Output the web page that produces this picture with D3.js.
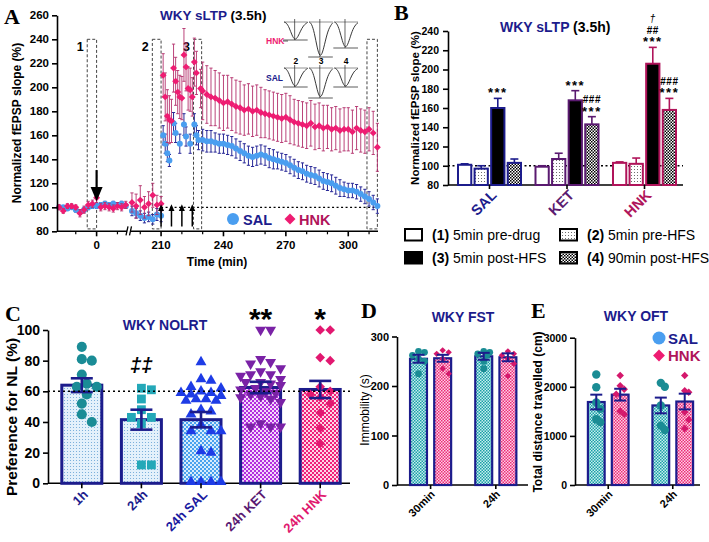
<!DOCTYPE html>
<html><head><meta charset="utf-8">
<script src="https://cdn.jsdelivr.net/npm/d3@7/dist/d3.min.js"></script>
<style>html,body{margin:0;padding:0;background:#fff;}svg{display:block;}</style>
</head><body>
<svg id="chart" width="709" height="542" xmlns="http://www.w3.org/2000/svg"></svg>
<script>
// ================= DATA =================
// Panel A : time course (minutes) of normalized fEPSP slope (%)
const seg1Times = [-18,-16,-14,-12,-10,-8,-6,-4,-2,0,2,4,6,8,10,12,14];
const salSeg1    = [100,100,99,100,98,96,98,100,101,101,102,103,102,103,102,103,101];
const salSeg1Err = [1,1,1,1,2,2,2,2,2,2,2,2,2,2,2,2,2];
const hnkSeg1    = [100,97,101,101,100,95,98,102,103,108,100,101,100,99,101,100,102];
const hnkSeg1Err = [2,2,2,2,2,3,3,3,3,4,3,3,3,3,3,3,3];

const seg2Times = [196,198,200,202,204,206,208,210];
const salSeg2    = [97,95,93,91,92,90,94,93];
const salSeg2Err = [4,4,4,4,4,4,5,5];
const hnkSeg2    = [104,101,106,100,103,110,102,103];
const hnkSeg2Err = [8,10,12,9,10,10,8,6];

const salHfsTimes = [211,212,213,214,216,217,219,221,222,224,226,227,228];
const salHfs      = [160,153,145,139,170,162,153,169,159,153,169,160,156];
const salHfsErr   = [8,8,7,5,9,8,8,9,8,8,9,8,8];
const hnkHfsTimes = [211,212,213,214,215,216,217,218,219,220,221,222,223,224,225,226,227,229];
const hnkHfs      = [210,192,176,173,172,216,205,196,192,191,227,217,199,198,192,221,212,199];
const hnkHfsErr   = [18,20,22,20,18,20,20,18,18,18,22,20,18,18,16,20,18,16];

const postTimes = [230,232,234,236,238,240,242,244,246,248,250,252,254,256,258,260,262,264,266,268,270,272,274,276,278,280,282,284,286,288,290,292,294,296,298,300,302,304,306,308,310,312,314];
const salPost    = [156,155,155,154,153,153,152,151,149,147,145,143,142,143,144,143,141,140,139,138,137,135,133,131,130,128,127,126,124,122,121,120,118,116,115,114,114,113,111,109,107,104,101];
const salPostErr = [9,9,9,8,8,8,8,8,8,8,8,8,8,8,8,8,8,8,7,7,7,7,7,7,7,7,7,7,7,7,7,7,7,7,6,6,6,6,6,6,6,6,6];
const hnkPost    = [197,194,192,191,189,187,188,186,184,183,181,182,180,181,179,178,177,176,175,174,175,173,171,170,169,168,170,167,168,166,167,165,166,164,165,165,163,166,164,163,165,162,150];
const hnkPostErr = [24,24,24,23,23,23,22,22,22,22,21,21,21,21,21,20,20,20,20,20,20,20,19,19,19,19,19,19,19,19,18,18,18,18,18,18,18,18,18,18,18,18,20];

const aYTicks = [80,100,120,140,160,180,200,220,240,260];
const aXTicks1 = [0];
const aXMinor1 = [-10,10];
const aXTicks2 = [210,240,270,300];
const aXMinor2 = [200,220,230,250,260,280,290,310];
const hfsTimes = [210,215,220,225];
const windows = [{lab:"1",t0:-4.5,t1:0,seg:1},{lab:"2",t0:205.8,t1:210,seg:2},{lab:"3",t0:225.6,t1:229.5,seg:2},{lab:"",t0:309,t1:314,seg:2}];
// inset trace amplitudes (arbitrary units)
const insetLabels = ["2","3","4"];
const hnkTraceAmp = [0.9,1.75,1.3];
const salTraceAmp = [0.95,1.5,0.95];
const traceShape = [[0,0],[0.1,0.04],[0.22,0.3],[0.34,0.75],[0.45,1],[0.56,0.9],[0.68,0.55],[0.82,0.18],[1,0.02]];

// Panel B
const bGroups = ["SAL","KET","HNK"];
const bPhases = ["1","2","3","4"];
const bMeans = {SAL:[101,97,160,103], KET:[99,107,168,143], HNK:[103,102,206,158]};
const bErrs  = {SAL:[1,3,10,4], KET:[1,6,10,8], HNK:[1,6,17,12]};
const bYTicks = [80,100,120,140,160,180,200,220,240];
const bAnnots = [
  {g:"SAL",p:"3",lines:["***"]},
  {g:"KET",p:"3",lines:["***"]},
  {g:"KET",p:"4",lines:["###","***"]},
  {g:"HNK",p:"3",lines:["\u2020","##","***"]},
  {g:"HNK",p:"4",lines:["###","***"]}
];
const bLegend = [{p:"1",n:"(1)",t:" 5min pre-drug"},{p:"2",n:"(2)",t:" 5min pre-HFS"},{p:"3",n:"(3)",t:" 5min post-HFS"},{p:"4",n:"(4)",t:" 90min post-HFS"}];

// Panel C
const cCats = ["1h","24h","24h SAL","24h KET","24h HNK"];
const cMeans = [64,41.5,41.5,62.5,61.2];
const cErrs  = [4.5,6.5,5,3.7,5.6];
const cPts = [
  [89,80,81,71,63,65,58,63,52,45,40],
  [62,61,55,48,43,43,39,12,12],
  [79,68,67,63,62,59,59,58,55,55,54,54,48,47,38,34,34,34,21,20,1,1,1,1,60,57,45],
  [100,100,81,79,78,75,73,71,71,70,68,66,66,65,64,62,61,60,59,58,57,56,55,53,39,37,37,37],
  [100,100,82,80,63,60,58,56,52,46,36,26]
];
const cYTicks = [0,20,40,60,80,100];
const cAnnots = ["","\u2021\u2021","","**","*"];

// Panel D (FST)
const dGroups = ["30min","24h"];
const dMeans = {SAL:[255,260], HNK:[256,258]};
const dErrs  = {SAL:[8,7], HNK:[7,8]};
const dPts = {SAL:[[270,268,262,255,250,225],[270,268,265,262,250,235]],
              HNK:[[272,268,265,255,235,225],[270,265,262,255,245,220]]};
const dYTicks = [0,100,200,300];

// Panel E (OFT)
const eMeans = {SAL:[1690,1620], HNK:[1840,1700]};
const eErrs  = {SAL:[150,160], HNK:[120,160]};
const ePts = {SAL:[[2250,1990,1680,1550,1340,1280],[2080,2000,1620,1210,1120]],
              HNK:[[2230,2020,1950,1850,1500,1440],[2230,1920,1890,1480,1330,1150]]};
const eYTicks = [0,1000,2000,3000];

// ================= STYLE =================
const SANS = '"Liberation Sans", Arial, Helvetica, sans-serif';
const SERIF = '"Liberation Serif", "Times New Roman", serif';
const NAVY = "#1c1c8c";
const PURPLE = "#5a1a70";
const CRIMSON = "#b0145a";
const PINK = "#ee1c72";
const LBLUE = "#4a9ef0";

const svg = d3.select("#chart");
svg.append("rect").attr("width",709).attr("height",542).attr("fill","#fff");
const defs = svg.append("defs");
function checker(id,c1,c2,s){
  const p=defs.append("pattern").attr("id",id).attr("patternUnits","userSpaceOnUse").attr("width",2*s).attr("height",2*s);
  p.append("rect").attr("width",2*s).attr("height",2*s).attr("fill",c2);
  p.append("rect").attr("width",s).attr("height",s).attr("fill",c1);
  p.append("rect").attr("x",s).attr("y",s).attr("width",s).attr("height",s).attr("fill",c1);
}
function dotted(id,bg,dc,s,r){
  const p=defs.append("pattern").attr("id",id).attr("patternUnits","userSpaceOnUse").attr("width",s).attr("height",s);
  p.append("rect").attr("width",s).attr("height",s).attr("fill",bg);
  p.append("circle").attr("cx",s/2).attr("cy",s/2).attr("r",r).attr("fill",dc);
}
checker("chkB","#000","#fff",1.5);
dotted("dotB","#fff","#555",3,0.55);
dotted("dotC","#e4f1fb","#6aa6d6",3,0.55);
checker("chkCsal","#4aa2ee","#d8ecfc",2);
checker("chkCket","#b22ede","#f4d8fb",2);
checker("chkChnk","#f0207a","#fdd6e6",2);
checker("chkTeal","#1aa0a6","#c8eef0",1.5);
checker("chkPink","#ee2a7a","#fbd4e4",1.5);

function txt(g,x,y,s,o={}){
  const t=g.append("text").attr("x",x).attr("y",y).text(s)
    .attr("font-family",o.family||SANS).attr("font-size",o.size||12)
    .attr("font-weight",o.weight||"bold").attr("fill",o.fill||"#000")
    .attr("text-anchor",o.anchor||"start");
  if(o.style) t.attr("font-style",o.style);
  if(o.rotate!=null) t.attr("transform",`rotate(${o.rotate},${x},${y})`);
  if(o.ls!=null) t.attr("letter-spacing",o.ls);
  return t;
}
function yAxis(scale,x,ticks,size,fmt,pad){
  const g=svg.append("g").attr("transform",`translate(${x},0)`)
    .call(d3.axisLeft(scale).tickValues(ticks).tickSize(5).tickSizeOuter(0).tickPadding(pad||3).tickFormat(fmt||d3.format("d")));
  g.select(".domain").attr("stroke","#000").attr("stroke-width",1.6);
  g.selectAll(".tick line").attr("stroke","#000").attr("stroke-width",1.6);
  g.selectAll(".tick text").attr("font-family",SANS).attr("font-weight","bold").attr("font-size",size).attr("fill","#000");
  return g;
}
function hline(g,x0,x1,y,o={}){
  return g.append("line").attr("x1",x0).attr("x2",x1).attr("y1",y).attr("y2",y)
    .attr("stroke",o.stroke||"#000").attr("stroke-width",o.w||1.6).attr("stroke-dasharray",o.dash||null);
}
function vline(g,x,y0,y1,o={}){
  return g.append("line").attr("x1",x).attr("x2",x).attr("y1",y0).attr("y2",y1)
    .attr("stroke",o.stroke||"#000").attr("stroke-width",o.w||1.6).attr("stroke-dasharray",o.dash||null);
}
const sym = (type,size)=>d3.symbol().type(type).size(size)();
function swarm(vals,y,d,maxOff){
  const idx=vals.map((v,i)=>i).sort((a,b)=>vals[b]-vals[a]);
  const placed=[]; const off=new Array(vals.length).fill(0);
  const cands=[0]; for(let k=1;k<=8;k++){cands.push(k*d/2,-k*d/2);}
  const ok=cands.filter(c=>Math.abs(c)<=maxOff);
  idx.forEach(i=>{
    const py=y(vals[i]); let best=null, bestD=-1;
    for(const c of ok){
      const md=placed.length?d3.min(placed,p=>Math.hypot(p.x-c,p.y-py)):1e9;
      if(md>=d){best=c;break;}
      if(md>bestD){bestD=md;best=c;}
    }
    off[i]=best; placed.push({x:best,y:py});
  });
  return off;
}

// ================= PANEL A =================
const A = svg.append("g");
const xA1 = d3.scaleLinear().domain([-19,15.3]).range([57,128.5]);
const xA2 = d3.scaleLinear().domain([195.3,314.3]).range([130.5,378]);
const yA = d3.scaleLinear().domain([80,260]).range([231.3,15.3]);
txt(A,4,24,"A",{family:SERIF,size:22});
yAxis(yA,57,aYTicks,11.5);
// x axis (broken)
hline(A,57,127,yA(80)); hline(A,131,378,yA(80));
aXTicks1.forEach(t=>{vline(A,xA1(t),yA(80),yA(80)+5); txt(A,xA1(t),yA(80)+18,String(t),{anchor:"middle",size:11.5});});
aXMinor1.forEach(t=>vline(A,xA1(t),yA(80),yA(80)+3,{w:1.2}));
aXTicks2.forEach(t=>{vline(A,xA2(t),yA(80),yA(80)+5); txt(A,xA2(t),yA(80)+18,String(t),{anchor:"middle",size:11.5});});
aXMinor2.forEach(t=>vline(A,xA2(t),yA(80),yA(80)+3,{w:1.2}));
A.append("rect").attr("x",127).attr("y",yA(80)-5).attr("width",4).attr("height",10).attr("fill","#fff");
A.append("line").attr("x1",126).attr("y1",yA(80)+4).attr("x2",128).attr("y2",yA(80)-5).attr("stroke","#000").attr("stroke-width",1.3);
A.append("line").attr("x1",129.5).attr("y1",yA(80)+4).attr("x2",131.5).attr("y2",yA(80)-5).attr("stroke","#000").attr("stroke-width",1.3);
txt(A,217,266,"Time (min)",{anchor:"middle",size:12});
txt(A,21,123,"Normalized fEPSP slope (%)",{anchor:"middle",size:12,rotate:-90});
// title
const tA = txt(A,160,20,"WKY sLTP",{size:13.5,fill:NAVY});
tA.append("tspan").text(" (3.5h)").attr("fill","#000");
// dotted 100 line
hline(A,xA2(210),378,yA(100),{w:1.3,dash:"2,2.5"});
// windows
windows.forEach(w=>{
  const xs = w.seg===1?xA1:xA2;
  A.append("rect").attr("x",xs(w.t0)).attr("y",yA(240)).attr("width",xs(w.t1)-xs(w.t0)).attr("height",yA(82)-yA(240))
    .attr("fill","none").attr("stroke","#444").attr("stroke-width",1).attr("stroke-dasharray","3,2");
  if(w.lab) txt(A,xs(w.t0)-7,yA(230),w.lab,{anchor:"middle",size:12.5});
});
// series builder
function series(t1,v1,e1,t2,v2,e2){
  const out=[];
  t1.forEach((t,i)=>out.push({x:xA1(t),v:v1[i],e:e1[i]}));
  t2.forEach((t,i)=>out.push({x:xA2(t),v:v2[i],e:e2[i]}));
  return out;
}
const salData = series(seg1Times,salSeg1,salSeg1Err,
  seg2Times.concat(salHfsTimes,postTimes), salSeg2.concat(salHfs,salPost), salSeg2Err.concat(salHfsErr,salPostErr));
const hnkData = series(seg1Times,hnkSeg1,hnkSeg1Err,
  seg2Times.concat(hnkHfsTimes,postTimes), hnkSeg2.concat(hnkHfs,hnkPost), hnkSeg2Err.concat(hnkHfsErr,hnkPostErr));
function errBars(data,color,w){
  const g=A.append("g").attr("stroke",color).attr("stroke-width",w);
  data.forEach(d=>{
    g.append("line").attr("x1",d.x).attr("x2",d.x).attr("y1",yA(d.v-d.e)).attr("y2",yA(d.v+d.e));
    g.append("line").attr("x1",d.x-1.6).attr("x2",d.x+1.6).attr("y1",yA(d.v+d.e)).attr("y2",yA(d.v+d.e));
    g.append("line").attr("x1",d.x-1.6).attr("x2",d.x+1.6).attr("y1",yA(d.v-d.e)).attr("y2",yA(d.v-d.e));
  });
}
errBars(salData,"#2a2a98",1);
A.append("g").selectAll("circle").data(salData).join("circle")
  .attr("cx",d=>d.x).attr("cy",d=>yA(d.v)).attr("r",3).attr("fill",LBLUE);
errBars(hnkData,"#b3306c",0.9);
A.append("g").selectAll("path").data(hnkData).join("path")
  .attr("d",sym(d3.symbolSquare,24)).attr("transform",d=>`translate(${d.x},${yA(d.v)}) rotate(45)`).attr("fill",PINK);
// drug arrow
vline(A,xA1(0),yA(131),yA(115),{w:2.2});
A.append("path").attr("d",`M${xA1(0)-6},${yA(117)}L${xA1(0)+6},${yA(117)}L${xA1(0)},${yA(105)}Z`).attr("fill","#000");
// HFS arrows
hfsTimes.forEach(t=>{
  const x=xA2(t);
  vline(A,x,yA(84),yA(98),{w:1.5});
  A.append("path").attr("d",`M${x-3},${yA(97)}L${x+3},${yA(97)}L${x},${yA(102.5)}Z`).attr("fill","#000");
});
// legend A
A.append("circle").attr("cx",233).attr("cy",219).attr("r",6).attr("fill",LBLUE);
txt(A,243,224.5,"SAL",{size:14.5,fill:NAVY});
A.append("path").attr("d",sym(d3.symbolSquare,60)).attr("transform","translate(290,219) rotate(45)").attr("fill",PINK);
txt(A,299,224.5,"HNK",{size:14.5,fill:CRIMSON});
// insets
const insX = d3.scaleBand().domain(insetLabels).range([284,358]).paddingInner(0.06);
const insAmp = d3.scaleLinear().domain([0,2]).range([0,40]);
function drawTraces(top,amps){
  insetLabels.forEach((l,i)=>{
    const x0=insX(l), w=insX.bandwidth(), depth=insAmp(amps[i]);
    const line=d3.line().x(p=>x0+p[0]*w).y(p=>top+p[1]*depth).curve(d3.curveBasis);
    hline(A,x0,x0+w,top,{stroke:"#777",w:0.8});
    hline(A,x0-1,x0+w,top+depth,{stroke:"#333",w:0.8});
    A.append("path").attr("d",line(traceShape)).attr("fill","none").attr("stroke","#222").attr("stroke-width",0.9);
    vline(A,x0+0.45*w,top-3,top+depth,{stroke:"#222",w:0.7});
  });
}
drawTraces(22,hnkTraceAmp);
drawTraces(68,salTraceAmp);
txt(A,266,44,"HNK",{size:8.5,fill:PINK});
hline(A,283,288,41,{stroke:"#333",w:0.8});
txt(A,266,81,"SAL",{size:8.5,fill:NAVY});
insetLabels.forEach(l=>txt(A,insX(l)+insX.bandwidth()/2,64,l,{size:8.5,anchor:"middle"}));

// ================= PANEL B =================
const B = svg.append("g");
const xB = d3.scaleBand().domain(bGroups).range([448,686]).paddingInner(0.187).paddingOuter(0.129);
const xBi = d3.scaleBand().domain(bPhases).range([0,xB.bandwidth()]).paddingInner(0.2);
const yB = d3.scaleLinear().domain([80,240]).range([185,31]);
const bColor = {SAL:NAVY,KET:PURPLE,HNK:CRIMSON};
const bFill = {"1":"#fff","2":"url(#dotB)","3":"#000","4":"url(#chkB)"};
txt(B,394,20,"B",{family:SERIF,size:22});
yAxis(yB,448,bYTicks,10.5,null,4);
hline(B,448,683,yB(80));
hline(B,448,683,yB(100),{w:1.3,dash:"2,2.5"});
const tB = txt(B,500,32,"WKY sLTP",{size:14,fill:NAVY});
tB.append("tspan").text(" (3.5h)").attr("fill","#000");
txt(B,419,108,"Normalized fEPSP slope (%)",{anchor:"middle",size:11.5,rotate:-90});
bGroups.forEach(g=>{
  bPhases.forEach((p,i)=>{
    const x=xB(g)+xBi(p), w=xBi.bandwidth(), m=bMeans[g][i], e=bErrs[g][i];
    B.append("rect").attr("x",x).attr("y",yB(m)).attr("width",w).attr("height",yB(80)-yB(m))
      .attr("fill",bFill[p]).attr("stroke",bColor[g]).attr("stroke-width",2);
    vline(B,x+w/2,yB(m),yB(m+e),{stroke:bColor[g],w:1.6});
    hline(B,x+w/2-4,x+w/2+4,yB(m+e),{stroke:bColor[g],w:1.6});
  });
  const cx=xB(g)+xB.bandwidth()/2;
  vline(B,cx,yB(80),yB(80)+4);
  txt(B,cx+8,yB(80)+11,g,{anchor:"end",size:14.5,fill:bColor[g],rotate:-45});
});
bAnnots.forEach(a=>{
  const i=bPhases.indexOf(a.p);
  const cx=xB(a.g)+xBi(a.p)+xBi.bandwidth()/2;
  const top=yB(bMeans[a.g][i]+bErrs[a.g][i]);
  a.lines.slice().reverse().forEach((s,k)=>{
    const isStar=s.indexOf("*")>=0, isDag=s==="\u2020";
    txt(B,cx,top-1-k*11.5+(isStar?0:-1),s,{anchor:"middle",size:isStar?13:(isDag?10.5:10),ls:isStar?1.5:0.5,style:isDag?"italic":null,weight:isDag?"normal":"bold"});
  });
});
// legend B
bLegend.forEach((l,i)=>{
  const col=i%2, row=Math.floor(i/2);
  const bx=[405,560][col], by=[229,252][row];
  B.append("rect").attr("x",bx).attr("y",by).attr("width",17).attr("height",11.5)
    .attr("fill",bFill[l.p]).attr("stroke","#000").attr("stroke-width",2);
  const t=txt(B,bx+27,by+11,l.n,{size:14});
  t.append("tspan").text(l.t).attr("font-weight","normal");
});

// ================= PANEL C =================
const C = svg.append("g");
const xC = d3.scalePoint().domain(cCats).range([52,350]).padding(0.5);
const yC = d3.scaleLinear().domain([0,100]).range([483.3,330]);
const cFill = ["url(#dotC)","url(#dotC)","url(#chkCsal)","url(#chkCket)","url(#chkChnk)"];
const cPtCol = ["#1a8c96","#24a8b8","#1e3ce6","#7a22a6","#e21870"];
const cSym = [
  sym(d3.symbolCircle,80), sym(d3.symbolSquare,78), sym(d3.symbolTriangle,52),
  sym(d3.symbolTriangle,52), sym(d3.symbolSquare,46)];
const cRot = [0,0,0,180,45];
const cLabCol = [NAVY,NAVY,"#1a1aa0","#5a1a72","#e0186e"];
txt(C,5,321,"C",{family:SERIF,size:22});
txt(C,165,330,"WKY NOLRT",{anchor:"middle",size:14,fill:NAVY});
yAxis(yC,48,cYTicks,14);
hline(C,48,350,yC(0));
txt(C,17,417,"Preference for NL (%)",{anchor:"middle",size:15.5,rotate:-90});
cCats.forEach((c,i)=>{
  const cx=xC(c);
  C.append("rect").attr("x",cx-20).attr("y",yC(cMeans[i])).attr("width",40).attr("height",yC(0)-yC(cMeans[i]))
    .attr("fill",cFill[i]).attr("stroke",NAVY).attr("stroke-width",3);
});
cCats.forEach((c,i)=>{
  const cx=xC(c);
  const off=swarm(cPts[i],yC,10,20);
  C.append("g").selectAll("path").data(cPts[i]).join("path")
    .attr("d",cSym[i]).attr("fill",cPtCol[i])
    .attr("transform",(v,k)=>`translate(${cx+off[k]},${yC(v)}) rotate(${cRot[i]})`);
});
cCats.forEach((c,i)=>{
  const cx=xC(c), m=cMeans[i], e=cErrs[i];
  vline(C,cx,yC(m-e),yC(m+e),{stroke:NAVY,w:2.6});
  hline(C,cx-11,cx+11,yC(m+e),{stroke:NAVY,w:2.6});
  hline(C,cx-11,cx+11,yC(m-e),{stroke:NAVY,w:2.6});
  vline(C,cx,yC(0),yC(0)+5);
  txt(C,cx+7,yC(0)+12,c,{anchor:"end",size:13,fill:cLabCol[i],rotate:-45});
  if(cAnnots[i]){
    const star=cAnnots[i].indexOf("*")>=0;
    txt(C,cx,star?329:372,cAnnots[i],{anchor:"middle",size:star?30:20,style:star?null:"italic"});
  }
});
hline(C,48,350,yC(60),{w:1.5,dash:"2,3"});

// ================= PANELS D & E =================
function pairPanel(P,opt){
  const xG = d3.scaleBand().domain(dGroups).range(opt.xr).paddingInner(0.37).paddingOuter(0.2);
  const xI = d3.scaleBand().domain(["SAL","HNK"]).range([0,xG.bandwidth()]).paddingInner(0.3);
  const y = opt.y;
  yAxis(y,opt.xr[0],opt.ticks,opt.tickSize);
  hline(P,opt.xr[0],opt.axEnd,y(0));
  const fills={SAL:"url(#chkTeal)",HNK:"url(#chkPink)"};
  const ptCol={SAL:"#1a8c94",HNK:"#d4186c"};
  dGroups.forEach((g,gi)=>{
    ["SAL","HNK"].forEach(s=>{
      const x=xG(g)+xI(s), w=xI.bandwidth(), m=opt.means[s][gi];
      P.append("rect").attr("x",x).attr("y",y(m)).attr("width",w).attr("height",y(0)-y(m))
        .attr("fill",fills[s]).attr("stroke",NAVY).attr("stroke-width",2.2);
    });
    ["SAL","HNK"].forEach(s=>{
      const cx=xG(g)+xI(s)+xI.bandwidth()/2, vals=opt.pts[s][gi];
      const off=swarm(vals,y,opt.d,7);
      P.append("g").selectAll("path").data(vals).join("path")
        .attr("d",s==="SAL"?sym(d3.symbolCircle,opt.cs):sym(d3.symbolSquare,opt.ds)).attr("fill",ptCol[s])
        .attr("transform",(v,k)=>`translate(${cx+off[k]},${y(v)}) rotate(${s==="SAL"?0:45})`);
    });
    ["SAL","HNK"].forEach(s=>{
      const cx=xG(g)+xI(s)+xI.bandwidth()/2, m=opt.means[s][gi], e=opt.errs[s][gi];
      vline(P,cx,y(m-e),y(m+e),{stroke:NAVY,w:2});
      hline(P,cx-6,cx+6,y(m+e),{stroke:NAVY,w:2});
      hline(P,cx-6,cx+6,y(m-e),{stroke:NAVY,w:2});
    });
    const gc=xG(g)+xG.bandwidth()/2;
    vline(P,gc,y(0),y(0)+4);
    txt(P,gc+5,y(0)+10,g,{anchor:"end",size:11,rotate:-45});
  });
}
const D = svg.append("g");
const yD = d3.scaleLinear().domain([0,300]).range([485,336.5]);
txt(D,361,318,"D",{family:SERIF,size:22});
txt(D,463,322,"WKY FST",{anchor:"middle",size:14,fill:NAVY});
txt(D,369,410,"Immobility (s)",{anchor:"middle",size:12,weight:"normal",rotate:-90});
pairPanel(D,{xr:[397,529.4],axEnd:528,y:yD,ticks:dYTicks,tickSize:11,means:dMeans,errs:dErrs,pts:dPts,d:6,cs:36,ds:20});

const E = svg.append("g");
const yE = d3.scaleLinear().domain([0,3000]).range([485,337.7]);
txt(E,531,318,"E",{family:SERIF,size:22});
txt(E,636,321,"WKY OFT",{anchor:"middle",size:14,fill:NAVY});
txt(E,542,412,"Total distance travelled (cm)",{anchor:"middle",size:12,rotate:-90});
pairPanel(E,{xr:[575,706],axEnd:700,y:yE,ticks:eYTicks,tickSize:10.5,means:eMeans,errs:eErrs,pts:ePts,d:8,cs:55,ds:28});
E.append("circle").attr("cx",659).attr("cy",338).attr("r",6.5).attr("fill",LBLUE);
txt(E,668,343.5,"SAL",{size:15,fill:NAVY});
E.append("path").attr("d",sym(d3.symbolSquare,70)).attr("transform","translate(659,355.5) rotate(45)").attr("fill",PINK);
txt(E,668,361,"HNK",{size:15,fill:CRIMSON});
</script></body></html>
